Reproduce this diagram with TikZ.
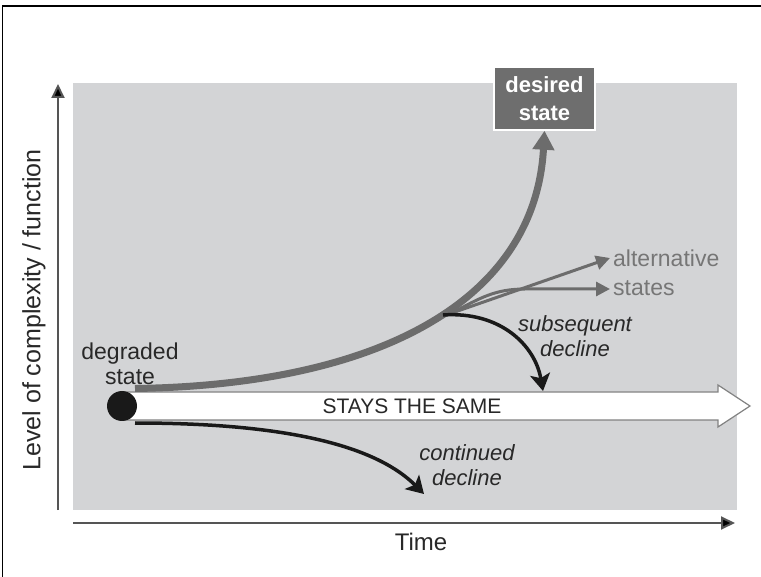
\documentclass[tikz,border=0pt]{standalone}
\usepackage{fontspec}
\setmainfont{Liberation Sans}
\usetikzlibrary{arrows.meta}
\definecolor{bg}{RGB}{211,212,214}
\definecolor{curvegray}{RGB}{108,108,108}
\definecolor{boxgray}{RGB}{110,110,110}
\definecolor{txt}{RGB}{40,40,40}
\definecolor{altgray}{RGB}{118,118,118}
\definecolor{axisgray}{RGB}{85,85,85}
\definecolor{shaftline}{RGB}{130,130,130}
\tikzset{
  lbl/.style={font=\fontsize{23}{25}\selectfont, text=txt, align=center, inner sep=0pt},
  itlbl/.style={font=\fontsize{22}{25}\selectfont\itshape, text=txt, align=center, inner sep=0pt},
  axisline/.style={draw=axisgray, line width=2pt, -{Triangle[length=14pt,width=13pt,fill=black]}},
  growcurve/.style={draw=curvegray, line width=7pt, -{Triangle[length=19pt,width=21pt]}},
  decline/.style={draw=black!90, line width=3.5pt, -{Stealth[length=17pt,width=20pt,inset=4pt]}},
  altarrow/.style={draw=curvegray, line width=3pt, -{Triangle[length=14pt,width=14pt]}},
}
\begin{document}
\begin{tikzpicture}[x=1pt,y=-1pt]
\useasboundingbox (0,0) rectangle (761,577);
\fill[white] (0,0) rectangle (761,577);
% frame (top and left)
\draw[line width=1.5pt, black] (2.5,577) -- (2.5,6) -- (761,6);
% background panel
\fill[bg] (73,83) rectangle (737,510);
% axes
\coordinate (yb) at (58,510);
\coordinate (yt) at (58,84);
\coordinate (xl) at (73,523);
\coordinate (xr) at (735,523);
\draw[axisline] (yb) -- (yt);
\draw[axisline] (xl) -- (xr);
\node[lbl, font=\fontsize{25}{27}\selectfont, rotate=90] (ylab) at (34,310) {Level of complexity / function};
\node[lbl, font=\fontsize{24}{26}\selectfont] (time) at (421,542) {Time};
% hollow arrow "stays the same"
\draw[draw=shaftline, fill=white, line width=1.2pt, line join=miter]
  (122,392) -- (718,392) -- (718,385) -- (750,406) -- (718,427) -- (718,420) -- (122,420) -- cycle;
\node[lbl, font=\fontsize{21}{23}\selectfont] (stays) at (412,406) {STAYS THE SAME};
% desired state box
\node[draw=white, line width=1.5pt, fill=boxgray, text=white, font=\fontsize{22}{28}\selectfont\bfseries,
      align=center, minimum width=101pt, minimum height=63pt, inner sep=0pt] (desired) at (544.5,98.5) {desired\\state};
% degraded state dot
\node[circle, fill=black!90, minimum size=30pt, inner sep=0pt] (dot) at (122,406) {};
\node[lbl] (degraded) at (130,364) {degraded\\state};
% points
\coordinate (gs) at (135,388.5);
\coordinate (cs) at (135,423);
\coordinate (br) at (452,313);
\coordinate (sb) at (443,315);
\coordinate (alt1) at (610,258);
\coordinate (alt2) at (610,289);
\coordinate (cdend) at (424,494);
\coordinate (sdend) at (543,391);
% growth curve
\draw[growcurve] (gs) .. controls (380,385) and (535,300) .. (desired.south);
% alternative states
\draw[altarrow] (br) -- (alt1);
\draw[altarrow] (br) .. controls (480,298) and (495,289) .. (525,289) -- (alt2);
\node[lbl, text=altgray, align=left, anchor=west, font=\fontsize{23}{29}\selectfont] (alt) at (613,273) {alternative\\states};
% subsequent decline
\draw[decline] (sb) .. controls (500,311) and (535,345) .. (sdend);
\node[itlbl] (subs) at (575,336) {subsequent\\decline};
% continued decline
\draw[decline] (cs) .. controls (300,423) and (380,450) .. (cdend);
\node[itlbl] (cont) at (467,465) {continued\\decline};
\end{tikzpicture}
\end{document}
